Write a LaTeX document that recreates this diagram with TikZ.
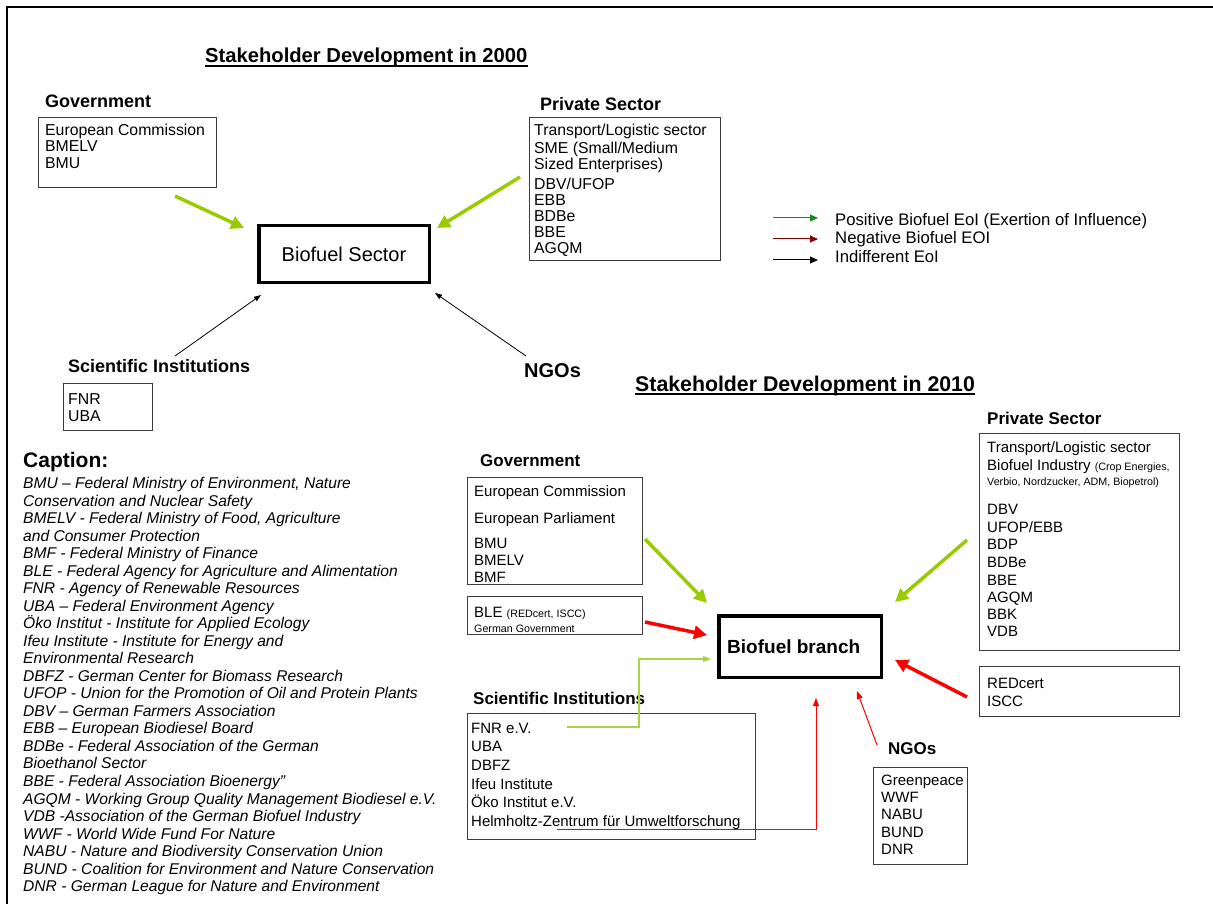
\documentclass[tikz,border=0pt]{standalone}
\usepackage{fontspec}
\setmainfont{Liberation Sans}
\usetikzlibrary{arrows.meta,calc}
\definecolor{lgreen}{RGB}{153,204,0}
\definecolor{lgreenthin}{RGB}{170,212,70}
\definecolor{leggreen}{RGB}{20,140,20}
\definecolor{legred}{RGB}{130,0,0}
\definecolor{boxgray}{RGB}{60,60,60}
\newcommand\fsz[2]{\fontsize{#1}{#2}\selectfont}
\tikzset{
 tbase/.style={anchor=mid west, inner sep=0pt, yshift=-3pt},
 tx/.style={tbase, font=\fsz{15.8}{18}},
 txb/.style={tbase, font=\fsz{15}{18}},
 sm/.style={tbase, font=\fsz{10.7}{12}},
 capt/.style={tbase, font=\fsz{15.6}{18}\itshape},
 lab/.style={tbase, font=\fsz{18}{20}\bfseries},
 labb/.style={tbase, font=\fsz{17}{20}\bfseries},
 legt/.style={tbase, font=\fsz{16.7}{20}},
 ttl/.style={anchor=base west, inner sep=0pt, font=\fsz{20.2}{24}\bfseries},
 grp/.style={draw=boxgray, line width=1.3pt, anchor=north west, inner sep=0pt},
 hub/.style={draw=black, line width=3.5pt, anchor=north west, inner sep=0pt},
 garr/.style={draw=lgreen, line width=3.5pt, -{Triangle[length=13pt,width=13pt]}},
 rarr/.style={draw=red, line width=3.5pt, -{Triangle[length=13pt,width=13pt]}},
 barr/.style={draw=black, line width=0.8pt, -{Triangle[length=7pt,width=5pt]}},
 rthin/.style={draw=red, line width=1pt, -{Triangle[length=8pt,width=6pt]}},
 gthin/.style={draw=lgreenthin, line width=1.2pt, -{Triangle[length=8pt,width=6pt]}},
 legarr/.style={line width=1pt, -{Triangle[length=8pt,width=7pt]}},
}
\begin{document}
\begin{tikzpicture}[x=1pt,y=-1pt]
\useasboundingbox (0,0) rectangle (1213,904);
% frame
\draw[line width=1.5pt] (7,904) -- (7,7) -- (1213,7);

%% ---------------- 2000 ----------------
\node[ttl] (t1) at (205,63) {Stakeholder Development in 2000};
\draw[line width=1.3pt] ($(t1.base west)+(0,3)$) -- ($(t1.base east)+(0,3)$);

\node[lab] (gov1l) at (45,102) {Government};
\node[grp, minimum width=178pt, minimum height=70pt] (gov1) at (38,117) {};
\node[tx] (gov1a) at (45,130) {European Commission};
\node[tx] (gov1b) at (45,146) {BMELV};
\node[tx] (gov1c) at (45,163) {BMU};

\node[lab] (priv1l) at (540,105) {Private Sector};
\node[grp, minimum width=191pt, minimum height=143pt] (priv1) at (529,117) {};
\node[tx] (p1a) at (534,130) {Transport/Logistic sector};
\node[tx] (p1b) at (534,148) {SME (Small/Medium};
\node[tx] (p1c) at (534,164) {Sized Enterprises)};
\node[tx] (p1d) at (534,184) {DBV/UFOP};
\node[tx] (p1e) at (534,200) {EBB};
\node[tx] (p1f) at (534,216) {BDBe};
\node[tx] (p1g) at (534,232) {BBE};
\node[tx] (p1h) at (534,248) {AGQM};

\node[hub, minimum width=170.5pt, minimum height=56.5pt, font=\fsz{20}{24}] (hub1) at (257,224) {Biofuel Sector};

\node[lab] (sci1l) at (68,367) {Scientific Institutions};
\node[grp, minimum width=89pt, minimum height=47pt] (sci1) at (63,383) {};
\node[tx] (s1a) at (68,399) {FNR};
\node[tx] (s1b) at (68,416) {UBA};

\node[tbase, font=\fsz{20}{24}\bfseries] (ngo1l) at (524,372) {NGOs};

\coordinate (a1s) at (175,196); \coordinate (a1e) at (244,228);
\coordinate (a2s) at (520,177); \coordinate (a2e) at (437,228);
\coordinate (a3s) at (175,356); \coordinate (a3e) at (261,295);
\coordinate (a4s) at (526,356); \coordinate (a4e) at (435,293);
\draw[garr] (a1s) -- (a1e);
\draw[garr] (a2s) -- (a2e);
\draw[barr] (a3s) -- (a3e);
\draw[barr] (a4s) -- (a4e);

% legend
\coordinate (l1s) at (773,218); \coordinate (l1e) at (818,218);
\coordinate (l2s) at (773,239); \coordinate (l2e) at (818,239);
\coordinate (l3s) at (773,260); \coordinate (l3e) at (818,260);
\draw[legarr, leggreen] (l1s) -- (l1e);
\draw[legarr, legred] (l2s) -- (l2e);
\draw[legarr, black] (l3s) -- (l3e);
\node[legt] (lt1) at (835,220) {Positive Biofuel EoI (Exertion of Influence)};
\node[legt] (lt2) at (835,238) {Negative Biofuel EOI};
\node[legt] (lt3) at (835,257) {Indifferent EoI};

%% ---------------- caption ----------------
\node[tbase, font=\fsz{21}{24}\bfseries] (capl) at (23,462) {Caption:};
\foreach \t [count=\i from 0] in {
{BMU – Federal Ministry of Environment, Nature},
{Conservation and Nuclear Safety},
{BMELV - Federal Ministry of Food, Agriculture},
{and Consumer Protection},
{BMF - Federal Ministry of Finance},
{BLE - Federal Agency for Agriculture and Alimentation},
{FNR - Agency of Renewable Resources},
{UBA – Federal Environment Agency},
{Öko Institut - Institute for Applied Ecology},
{Ifeu Institute - Institute for Energy and},
{Environmental Research},
{DBFZ - German Center for Biomass Research},
{UFOP - Union for the Promotion of Oil and Protein Plants},
{DBV – German Farmers Association},
{EBB – European Biodiesel Board},
{BDBe - Federal Association of the German},
{Bioethanol Sector},
{BBE - Federal Association Bioenergy”},
{AGQM - Working Group Quality Management Biodiesel e.V.},
{VDB -Association of the German Biofuel Industry},
{WWF - World Wide Fund For Nature},
{NABU - Nature and Biodiversity Conservation Union},
{BUND - Coalition for Environment and Nature Conservation},
{DNR - German League for Nature and Environment}}
{\node[capt] (cap\i) at (23,{483+17.52*\i}) {\t};}

%% ---------------- 2010 ----------------
\node[ttl, font=\fsz{21.3}{24}\bfseries] (t2) at (635,391) {Stakeholder Development in 2010};
\draw[line width=1.3pt] ($(t2.base west)+(0,3)$) -- ($(t2.base east)+(0,3)$);

% private 2010
\node[labb] (priv2l) at (987,419) {Private Sector};
\node[grp, minimum width=200pt, minimum height=217pt] (priv2) at (979,433) {};
\node[txb] (p2a) at (987,447) {Transport/Logistic sector};
\node[txb] (p2b) at (987,465) {Biofuel Industry {\fsz{10.7}{12}(Crop Energies,}};
\node[sm] (p2c) at (987,480) {Verbio, Nordzucker, ADM, Biopetrol)};
\node[txb] (p2d) at (987,509) {DBV};
\node[txb] (p2e) at (987,527) {UFOP/EBB};
\node[txb] (p2f) at (987,544) {BDP};
\node[txb] (p2g) at (987,562) {BDBe};
\node[txb] (p2h) at (987,580) {BBE};
\node[txb] (p2i) at (987,597) {AGQM};
\node[txb] (p2j) at (987,614) {BBK};
\node[txb] (p2k) at (987,631) {VDB};

\node[grp, minimum width=200pt, minimum height=50pt] (cert) at (979,666) {};
\node[txb] (c1) at (987,683) {REDcert};
\node[txb] (c2) at (987,701) {ISCC};

% government 2010
\node[labb] (gov2l) at (480,461) {Government};
\node[grp, minimum width=175pt, minimum height=107pt] (gov2) at (467,477) {};
\node[txb] (g2a) at (474,491) {European Commission};
\node[txb] (g2b) at (474,518) {European Parliament};
\node[txb] (g2c) at (474,543) {BMU};
\node[txb] (g2d) at (474,560) {BMELV};
\begin{scope}
\clip (gov2.north west) rectangle (gov2.south east);
\node[txb] (g2e) at (474,577) {BMF};
\end{scope}

\node[grp, minimum width=175pt, minimum height=38pt] (ble) at (467,596) {};
\node[txb] (b1) at (474,612) {BLE {\fsz{10.7}{12}(REDcert, ISCC)}};
\node[sm] (b2) at (474,627) {German Government};

% hub 2010
\node[hub, minimum width=162.5pt, minimum height=61.5pt] (hub2) at (717,614) {};
\node[tbase, font=\fsz{19}{22}\bfseries] (hub2t) at (727,648) {Biofuel branch};

% scientific 2010
\node[labb] (sci2l) at (473,699) {Scientific Institutions};
\node[grp, minimum width=288pt, minimum height=126pt] (sci2) at (467,713) {};
\node[txb] (s2a) at (471,728) {FNR e.V.};
\node[txb] (s2b) at (471,746) {UBA};
\node[txb] (s2c) at (471,765) {DBFZ};
\node[txb] (s2d) at (471,784) {Ifeu Institute};
\node[txb] (s2e) at (471,802) {Öko Institut e.V.};
\node[txb] (s2f) at (471,821) {Helmholtz-Zentrum für Umweltforschung};

% NGOs 2010
\node[labb] (ngo2l) at (888,749) {NGOs};
\node[grp, minimum width=94pt, minimum height=97pt] (ngo2) at (873,767) {};
\node[txb] (n1) at (881,780) {Greenpeace};
\node[txb] (n2) at (881,797) {WWF};
\node[txb] (n3) at (881,814) {NABU};
\node[txb] (n4) at (881,832) {BUND};
\node[txb] (n5) at (881,849) {DNR};

% arrows 2010
\coordinate (b1s) at (645,539); \coordinate (b1e) at (707,603);
\coordinate (b2s) at (645,622); \coordinate (b2e) at (707,635);
\coordinate (b3s) at (967,540); \coordinate (b3e) at (895,602);
\coordinate (b4s) at (967,697); \coordinate (b4e) at (895,660);
\draw[garr] (b1s) -- (b1e);
\draw[rarr] (b2s) -- (b2e);
\draw[garr] (b3s) -- (b3e);
\draw[rarr] (b4s) -- (b4e);

\coordinate (e1s) at (567,727); \coordinate (e1m) at (639,659); \coordinate (e1e) at (711,659);
\draw[gthin] (e1s) -| (e1m) -- (e1e);
\coordinate (e2s) at (557,829); \coordinate (e2e) at (816,698);
\draw[rthin] (e2s) -| (e2e);
\coordinate (e3s) at (877,745); \coordinate (e3e) at (857,691);
\draw[rthin] (e3s) -- (e3e);
\end{tikzpicture}
\end{document}
